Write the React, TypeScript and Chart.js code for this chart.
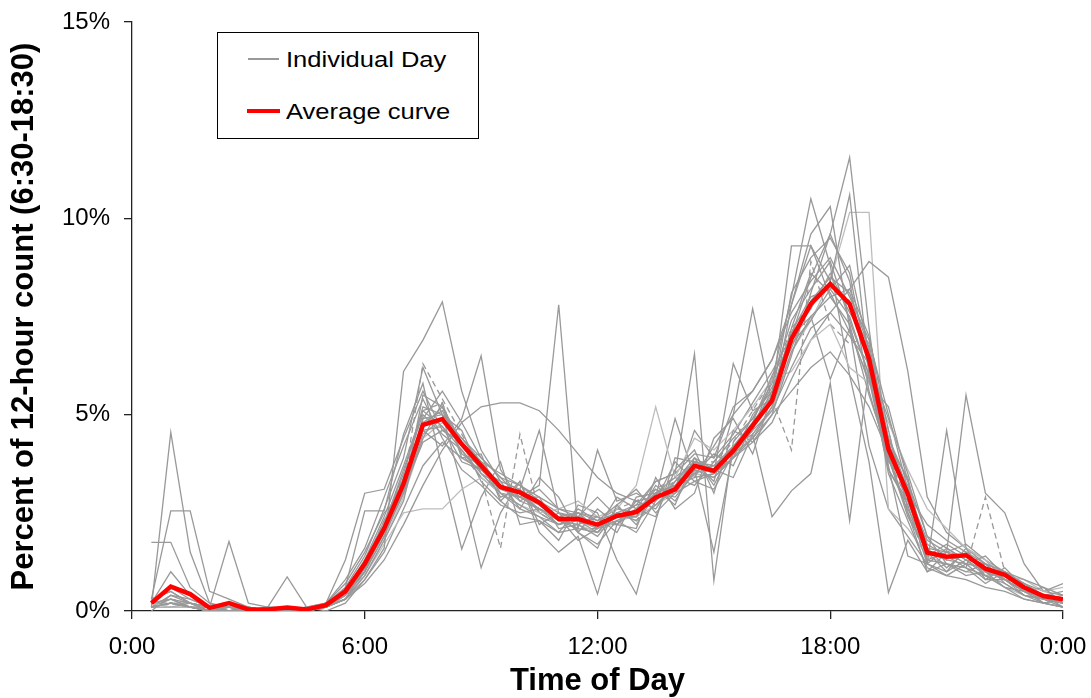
import React, { useEffect, useRef } from 'react';
import { Chart, registerables } from 'chart.js';

Chart.register(...registerables);

// Half-hour slots, 0:30 … 24:00 (hours)
const hours = [
  0.5, 1, 1.5, 2, 2.5, 3, 3.5, 4, 4.5, 5, 5.5, 6,
  6.5, 7, 7.5, 8, 8.5, 9, 9.5, 10, 10.5, 11, 11.5, 12,
  12.5, 13, 13.5, 14, 14.5, 15, 15.5, 16, 16.5, 17, 17.5, 18,
  18.5, 19, 19.5, 20, 20.5, 21, 21.5, 22, 22.5, 23, 23.5, 24,
];
const xTickLabels = ['0:00', '6:00', '12:00', '18:00', '0:00'];

const averageCurve = [
  0.2, 0.62, 0.43, 0.08, 0.2, 0.04, 0.04, 0.09, 0.04, 0.15, 0.5, 1.2,
  2.1, 3.24, 4.74, 4.89, 4.25, 3.7, 3.16, 3.02, 2.76, 2.34, 2.34, 2.2,
  2.42, 2.52, 2.89, 3.1, 3.7, 3.57, 4.08, 4.72, 5.36, 6.93, 7.82, 8.33,
  7.82, 6.42, 4.12, 2.98, 1.49, 1.38, 1.42, 1.08, 0.92, 0.6, 0.38, 0.3,
];

const day01 = [
  0.1, 4.55, 1.5, 0.2, 0.1, 0.0, 0.0, 0.1, 0.0, 0.1, 0.4, 1.0,
  2.2, 3.5, 5.2, 5.0, 4.6, 3.5, 3.0, 2.7, 2.4, 2.0, 2.6, 2.3,
  2.7, 2.2, 3.0, 3.4, 3.2, 3.8, 4.4, 4.9, 5.8, 7.4, 8.2, 8.9,
  7.4, 6.0, 3.8, 3.2, 1.3, 1.2, 1.0, 1.2, 0.7, 0.4, 0.3, 0.2,
];
const day02 = [
  1.75, 1.75, 0.6, 0.2, 0.0, 0.1, 0.0, 0.0, 0.1, 0.2, 0.7, 1.5,
  2.5, 3.0, 4.4, 5.3, 3.9, 4.0, 2.8, 3.3, 2.2, 2.5, 2.0, 2.6,
  2.2, 2.8, 2.6, 3.3, 3.9, 3.2, 4.2, 4.5, 5.2, 7.8, 9.3, 8.0,
  8.2, 7.0, 4.6, 2.6, 1.6, 1.1, 1.5, 0.9, 1.0, 0.5, 0.4, 0.1,
];
const day03 = [
  0.3, 2.55, 2.55, 0.5, 0.3, 0.1, 0.0, 0.1, 0.0, 0.1, 0.3, 0.9,
  1.8, 2.8, 4.9, 5.6, 4.8, 3.9, 3.4, 2.9, 2.9, 2.1, 2.2, 1.9,
  2.5, 2.4, 3.2, 2.8, 3.6, 3.4, 3.9, 5.0, 5.6, 7.0, 7.7, 8.6,
  7.6, 6.8, 4.4, 3.3, 1.2, 1.6, 1.3, 1.2, 0.8, 0.7, 0.4, 0.5,
];
const day04 = [
  0.2, 1.0, 0.4, 0.1, 1.77, 0.2, 0.1, 0.0, 0.1, 0.2, 0.8, 1.6,
  2.9, 4.2, 5.4, 4.4, 3.6, 3.2, 2.7, 2.5, 2.6, 2.4, 1.8, 2.1,
  2.9, 2.6, 2.4, 3.6, 4.1, 3.0, 4.6, 4.3, 5.0, 6.5, 8.1, 9.6,
  8.4, 5.6, 3.9, 2.4, 1.5, 1.0, 1.6, 0.8, 1.1, 0.6, 0.2, 0.3,
];
const day05 = [
  0.3, 0.5, 0.2, 0.1, 0.1, 0.0, 0.1, 0.87, 0.1, 0.1, 0.3, 1.1,
  2.0, 3.4, 4.6, 4.2, 4.9, 6.5, 3.6, 2.8, 3.1, 2.6, 2.5, 2.4,
  2.0, 2.9, 3.0, 2.9, 3.5, 4.0, 3.7, 4.8, 6.0, 6.8, 7.4, 8.2,
  8.8, 6.6, 4.3, 3.0, 1.8, 1.5, 1.2, 1.4, 0.9, 0.5, 0.6, 0.2,
];
const day06 = [
  0.1, 0.2, 0.1, 0.0, 0.1, 0.0, 0.0, 0.0, 0.1, 0.0, 0.2, 0.8,
  1.6, 6.1, 6.9, 7.87, 5.6, 4.1, 3.3, 2.6, 3.4, 2.9, 2.0, 1.7,
  2.3, 2.0, 2.8, 3.8, 3.3, 3.1, 4.0, 4.6, 5.1, 6.2, 7.2, 7.6,
  7.0, 6.3, 4.9, 3.5, 1.9, 1.2, 1.1, 0.9, 0.6, 0.3, 0.2, 0.1,
];
const day07 = [
  0.2, 0.3, 0.2, 0.1, 0.0, 0.0, 0.1, 0.0, 0.0, 0.1, 0.5, 1.3,
  2.4, 3.7, 5.1, 4.7, 3.8, 3.6, 3.1, 2.9, 3.2, 7.8, 2.0, 1.6,
  2.7, 3.1, 2.5, 3.0, 3.7, 3.5, 6.3, 5.1, 5.4, 7.2, 8.6, 8.1,
  7.1, 5.9, 3.6, 2.8, 1.4, 1.7, 1.4, 1.0, 0.9, 0.7, 0.3, 0.4,
];
const day08 = [
  0.1, 0.2, 0.1, 0.0, 0.0, 0.0, 0.0, 0.1, 0.0, 0.1, 0.3, 0.7,
  1.3, 2.2, 3.2, 4.1, 4.8, 5.2, 5.3, 5.3, 5.1, 4.6, 4.0, 3.4,
  3.0, 2.8, 2.9, 3.0, 3.3, 3.5, 3.9, 4.4, 5.0, 5.6, 6.2, 6.6,
  6.0, 5.2, 4.0, 3.0, 2.2, 1.8, 1.5, 1.2, 1.0, 0.8, 0.6, 0.4,
];
const day09 = [
  0.2, 0.1, 0.1, 0.0, 0.1, 0.0, 0.0, 0.0, 0.0, 0.1, 0.4, 0.9,
  1.7, 2.5, 2.6, 2.6, 3.1, 3.4, 3.0, 2.7, 2.5, 2.6, 2.8, 2.4,
  2.6, 3.2, 5.2, 3.4, 4.4, 4.1, 4.6, 5.2, 5.9, 6.1, 6.9, 7.3,
  6.2, 5.8, 4.8, 3.6, 2.6, 2.1, 1.6, 1.3, 0.9, 0.8, 0.5, 0.6,
];
const day10 = [
  0.0, 0.4, 0.3, 0.1, 0.0, 0.1, 0.0, 0.0, 0.0, 0.2, 0.6, 1.4,
  2.6, 3.9, 6.2, 5.0, 3.2, 1.1, 2.5, 3.3, 2.0, 1.5, 1.9, 0.43,
  2.2, 2.1, 3.4, 2.6, 3.0, 4.4, 4.9, 4.0, 5.5, 8.1, 9.0, 9.5,
  8.6, 6.1, 3.5, 2.3, 1.1, 0.9, 1.2, 0.8, 0.8, 0.4, 0.2, 0.1,
];
const day11 = [
  0.1, 0.2, 0.2, 0.0, 0.1, 0.1, 0.0, 0.1, 0.0, 0.1, 0.6, 2.55,
  2.55, 4.5, 5.8, 3.6, 1.58, 2.9, 3.8, 2.2, 2.3, 1.8, 2.7, 2.5,
  1.3, 0.43, 2.3, 3.9, 3.8, 3.3, 5.0, 5.6, 6.4, 7.6, 8.4, 9.0,
  8.0, 6.9, 5.0, 3.1, 1.7, 1.4, 1.1, 0.7, 1.0, 0.6, 0.3, 0.2,
];
const day12 = [
  0.2, 0.6, 0.3, 0.1, 0.2, 0.0, 0.1, 0.1, 0.0, 0.2, 0.5, 1.2,
  2.3, 3.3, 4.7, 5.2, 4.0, 3.7, 2.9, 3.1, 2.5, 2.2, 2.4, 2.9,
  2.4, 2.7, 3.3, 3.5, 6.55, 0.77, 4.3, 4.9, 5.7, 6.7, 7.9, 8.5,
  8.1, 6.7, 4.2, 3.4, 1.3, 1.5, 1.4, 1.1, 0.8, 0.5, 0.4, 0.3,
];
const day13 = [
  0.1, 0.3, 0.1, 0.1, 0.0, 0.0, 0.0, 0.0, 0.1, 0.1, 0.4, 1.0,
  1.9, 3.1, 4.3, 4.6, 4.3, 3.8, 3.2, 3.0, 2.7, 2.3, 2.1, 2.0,
  2.5, 2.3, 2.7, 3.2, 3.4, 4.2, 5.0, 7.7, 5.3, 7.0, 8.5, 9.6,
  11.55, 7.2, 3.6, 2.7, 1.2, 1.0, 1.3, 0.9, 0.7, 0.4, 0.3, 0.1,
];
const day14 = [
  0.1, 0.2, 0.1, 0.0, 0.1, 0.0, 0.0, 0.0, 0.0, 0.1, 0.4, 1.1,
  2.0, 3.0, 4.5, 4.9, 4.4, 3.9, 3.4, 3.2, 2.8, 2.5, 2.3, 2.0,
  2.6, 2.5, 3.1, 2.7, 3.9, 3.6, 3.4, 4.5, 2.4, 3.06, 3.5, 5.8,
  2.3, 6.2, 4.4, 3.1, 1.6, 1.5, 1.7, 1.3, 1.0, 0.7, 0.5, 0.4,
];
const day15 = [
  0.2, 0.1, 0.2, 0.0, 0.0, 0.1, 0.0, 0.0, 0.0, 0.1, 0.5, 1.3,
  2.2, 3.6, 5.0, 4.5, 4.1, 3.4, 3.0, 2.6, 2.4, 2.2, 2.5, 2.1,
  2.3, 2.6, 2.9, 3.1, 3.6, 1.5, 4.1, 4.6, 5.9, 8.0, 10.5, 8.8,
  6.0, 3.8, 0.47, 1.8, 1.0, 1.2, 0.9, 1.0, 0.6, 0.5, 0.2, 0.3,
];
const day16 = [
  0.1, 0.4, 0.2, 0.1, 0.1, 0.0, 0.1, 0.0, 0.1, 0.1, 0.3, 1.0,
  2.1, 3.2, 4.8, 5.1, 4.2, 3.6, 3.1, 3.0, 2.6, 2.4, 2.5, 2.3,
  2.5, 2.7, 2.8, 3.3, 3.8, 3.7, 4.2, 4.8, 5.5, 9.3, 9.3, 8.4,
  10.6, 6.1, 3.9, 2.5, 1.5, 1.3, 1.2, 1.1, 0.9, 0.6, 0.4, 0.2,
];
const day17 = [
  0.1, 0.2, 0.1, 0.0, 0.0, 0.0, 0.0, 0.0, 0.0, 0.1, 0.3, 0.8,
  1.5, 2.6, 3.7, 4.3, 3.9, 3.6, 3.3, 3.1, 4.6, 2.5, 2.4, 2.2,
  2.4, 2.5, 2.9, 4.9, 3.4, 3.5, 3.9, 4.3, 4.8, 5.9, 6.9, 7.6,
  8.2, 8.9, 8.5, 6.1, 2.9, 2.0, 1.6, 1.2, 1.0, 0.7, 0.4, 0.3,
];
const day18 = [
  0.2, 0.3, 0.1, 0.1, 0.0, 0.0, 0.0, 0.1, 0.0, 0.2, 0.5, 1.1,
  2.0, 3.1, 4.6, 4.7, 4.1, 3.5, 3.2, 2.8, 2.6, 2.3, 2.2, 2.4,
  2.2, 2.6, 3.0, 3.2, 3.5, 3.7, 4.0, 4.4, 5.2, 6.6, 7.5, 8.0,
  7.3, 5.5, 4.0, 2.5, 1.0, 1.5, 5.5, 3.0, 2.5, 1.2, 0.5, 0.7,
];
const day19 = [
  0.1, 0.1, 0.1, 0.0, 0.1, 0.0, 0.0, 0.0, 0.0, 0.1, 0.4, 1.0,
  2.1, 3.3, 4.9, 5.0, 4.4, 3.8, 3.0, 2.9, 2.6, 2.2, 2.3, 2.1,
  2.4, 2.4, 3.0, 3.2, 3.8, 3.6, 4.2, 4.7, 5.6, 7.1, 8.0, 8.2,
  7.5, 6.0, 3.7, 1.4, 1.2, 4.6, 1.6, 1.3, 0.8, 0.5, 0.3, 0.2,
];
const day20 = [
  0.1, 0.2, 0.1, 0.0, 0.0, 0.0, 0.0, 0.0, 0.0, 0.1, 0.3, 0.9,
  1.8, 2.9, 4.4, 4.8, 4.2, 3.6, 3.2, 2.9, 2.7, 2.3, 2.2, 2.0,
  2.3, 2.4, 2.7, 3.0, 3.5, 3.4, 3.9, 4.5, 5.1, 6.6, 7.4, 8.4,
  10.15, 10.15, 2.6, 2.1, 1.4, 1.2, 1.0, 0.9, 0.6, 0.4, 0.3, 0.2,
];
const day21 = [
  0.1, 0.3, 0.2, 0.0, 0.1, 0.0, 0.0, 0.0, 0.0, 0.1, 0.4, 1.1,
  2.0, 3.2, 6.3, 5.4, 4.5, 3.6, 3.2, 3.0, 2.8, 2.3, 2.1, 2.1,
  2.5, 2.3, 3.0, 3.3, 3.6, 3.4, 3.9, 4.8, 5.4, 4.1, 8.9, 7.3,
  6.8, 7.0, 4.6, 2.5, 1.3, 1.2, 1.1, 2.9, 1.0, 0.5, 0.3, 0.2,
];
const day22 = [
  0.2, 0.2, 0.1, 0.0, 0.0, 0.1, 0.0, 0.0, 0.0, 0.1, 0.4, 1.2,
  2.3, 3.4, 5.1, 5.3, 4.0, 3.4, 1.6, 4.5, 2.5, 2.2, 2.4, 2.3,
  2.6, 2.8, 3.1, 3.4, 3.8, 3.8, 4.3, 5.1, 5.9, 7.2, 7.8, 8.3,
  7.9, 6.5, 3.9, 2.8, 1.6, 1.3, 1.4, 1.0, 0.8, 0.6, 0.4, 0.3,
];
const day23 = [
  0.1, 0.2, 0.1, 0.0, 0.0, 0.0, 0.1, 0.0, 0.0, 0.1, 0.3, 1.0,
  1.9, 3.0, 5.5, 5.2, 4.3, 3.8, 3.5, 3.2, 2.9, 2.6, 2.4, 2.2,
  2.2, 2.6, 3.3, 3.5, 4.0, 3.9, 4.5, 5.3, 6.1, 7.0, 7.5, 5.9,
  7.2, 5.8, 5.2, 3.3, 1.9, 1.6, 1.3, 1.0, 0.8, 0.5, 0.3, 0.2,
];
const day24 = [
  0.3, 0.5, 0.2, 0.1, 0.1, 0.0, 0.0, 0.1, 0.0, 0.2, 1.3, 3.0,
  3.1, 4.4, 5.6, 4.6, 4.3, 3.3, 2.8, 2.4, 2.3, 2.0, 2.1, 4.1,
  2.8, 3.0, 2.7, 3.1, 4.6, 3.9, 5.2, 5.6, 6.4, 7.8, 9.6, 10.3,
  7.2, 4.2, 2.6, 1.9, 1.2, 0.9, 0.8, 0.6, 0.5, 0.3, 0.2, 0.1,
];

const individualDays = [
  day01, day02, day03, day04, day05, day06, day07, day08, day09, day10, day11, day12,
  day13, day14, day15, day16, day17, day18, day19, day20, day21, day22, day23, day24,
];

const FONT = '"Liberation Sans", Arial, Helvetica, sans-serif';
const lightDays = new Set([8, 19]);
const dashedDays = new Set([20, 21]);

export default function App() {
  const canvasRef = useRef<HTMLCanvasElement>(null);

  useEffect(() => {
    const toPoints = (arr: number[]) => arr.map((v, i) => ({ x: hours[i], y: v }));
    const grayDatasets = individualDays.map((d, k) => ({
      label: 'Individual Day',
      data: toPoints(d),
      borderColor: lightDays.has(k) ? '#bdbdbd' : '#999999',
      borderWidth: 1.3,
      borderDash: dashedDays.has(k) ? [6, 4] : [],
      pointRadius: 0,
      tension: 0,
      fill: false,
    }));
    const chart = new Chart(canvasRef.current as HTMLCanvasElement, {
      type: 'line',
      data: {
        datasets: [
          {
            label: 'Average curve',
            data: toPoints(averageCurve),
            borderColor: '#ff0000',
            borderWidth: 4.5,
            pointRadius: 0,
            tension: 0,
            fill: false,
            borderJoinStyle: 'miter',
          },
          ...grayDatasets,
        ],
      },
      options: {
        responsive: false,
        animation: false,
        devicePixelRatio: 1,
        layout: { padding: { top: 22, right: 28, bottom: 0, left: 0 } },
        plugins: {
          legend: { display: false },
          tooltip: { enabled: false },
        },
        scales: {
          x: {
            type: 'linear',
            min: 0,
            max: 24,
            ticks: {
              stepSize: 6,
              autoSkip: false,
              maxRotation: 0,
              padding: 14,
              color: '#000',
              font: { family: FONT, size: 24 },
              callback: (_v: any, i: number) => xTickLabels[i],
            },
            grid: { drawOnChartArea: false, drawTicks: true, tickLength: 8, color: '#222', lineWidth: 1.3 },
            border: { display: true, color: '#222', width: 1.3 },
            title: {
              display: true,
              text: 'Time of Day',
              color: '#000',
              font: { family: FONT, size: 31, weight: 'bold' },
              padding: { top: 0, bottom: -2 },
            },
            afterFit: (s: any) => {
              s.height = 87;
              s.paddingLeft = 0;
              s.paddingRight = 0;
            },
          },
          y: {
            min: 0,
            max: 15,
            ticks: {
              stepSize: 5,
              padding: 14,
              color: '#000',
              font: { family: FONT, size: 24 },
              callback: (v: any) => v + '%',
            },
            grid: { drawOnChartArea: false, drawTicks: true, tickLength: 8, color: '#222', lineWidth: 1.3 },
            border: { display: true, color: '#222', width: 1.3 },
            title: {
              display: true,
              text: 'Percent of 12-hour count (6:30-18:30)',
              color: '#000',
              font: { family: FONT, size: 31, weight: 'bold' },
              padding: { top: 6, bottom: 0 },
            },
            afterFit: (s: any) => {
              s.width = 132;
              s.paddingTop = 0;
              s.paddingBottom = 0;
            },
          },
        },
      } as any,
    });
    return () => chart.destroy();
  }, []);

  const textStyle: React.CSSProperties = {
    position: 'absolute',
    left: 286,
    fontFamily: FONT,
    fontSize: 22,
    lineHeight: '26px',
    color: '#000',
    whiteSpace: 'nowrap',
    transform: 'scaleX(1.16)',
    transformOrigin: 'left center',
  };

  return (
    <div style={{ position: 'fixed', left: 0, top: 0, width: 1091, height: 698, background: '#fff', overflow: 'hidden' }}>
      <canvas ref={canvasRef} width={1091} height={698} style={{ display: 'block' }} />
      <div
        style={{
          position: 'absolute',
          left: 217,
          top: 32,
          width: 262,
          height: 107,
          boxSizing: 'border-box',
          border: '1px solid #000',
          background: '#fff',
        }}
      />
      <div style={{ position: 'absolute', left: 248, top: 58, width: 31, height: 1.5, background: '#999999' }} />
      <div style={{ ...textStyle, top: 46.5 }}>Individual Day</div>
      <div style={{ position: 'absolute', left: 247, top: 109, width: 33, height: 4, background: '#ff0000' }} />
      <div style={{ ...textStyle, top: 98.5 }}>Average curve</div>
    </div>
  );
}
